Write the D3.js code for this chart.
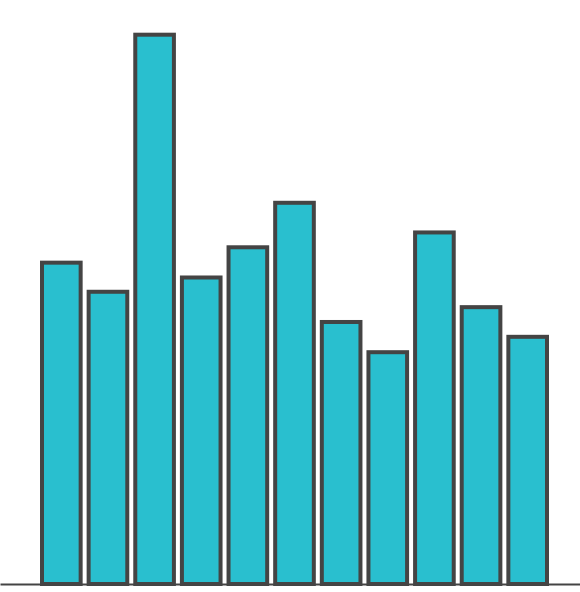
<!DOCTYPE html>
<meta charset="utf-8">
<style>
body { margin: 0; background: #fff; }
.bar { fill: #29bfcf; stroke: #444; stroke-width: 4; }
.axis--x path { stroke: #444; stroke-width: 2; }
</style>
<svg width="580" height="592"></svg>
<script src="https://d3js.org/d3.v7.min.js"></script>
<script>

var categories = ["A", "B", "C", "D", "E", "F", "G", "H", "I", "J", "K"];
var values = [58.5, 53.2, 100, 55.8, 61.3, 69.4, 47.7, 42.2, 64.0, 50.4, 45.0];

var svg = d3.select("svg"),
    baseline = 584;

var x = d3.scaleBand().domain(categories).range([42, 547]).paddingInner(0.1714).paddingOuter(0),
    y = d3.scaleLinear().domain([0, 100]).range([baseline, 34.7]);

svg.selectAll(".bar")
  .data(values)
  .enter().append("rect")
    .attr("class", "bar")
    .attr("x", function(d, i) { return x(categories[i]); })
    .attr("y", function(d) { return y(d); })
    .attr("width", x.bandwidth())
    .attr("height", function(d) { return baseline - y(d); });

var xAxisScale = d3.scaleLinear().range([0, 580]);
svg.append("g")
    .attr("class", "axis axis--x")
    .attr("transform", "translate(0," + baseline + ")")
    .call(d3.axisBottom(xAxisScale).ticks(0).tickSizeOuter(0));

</script>
